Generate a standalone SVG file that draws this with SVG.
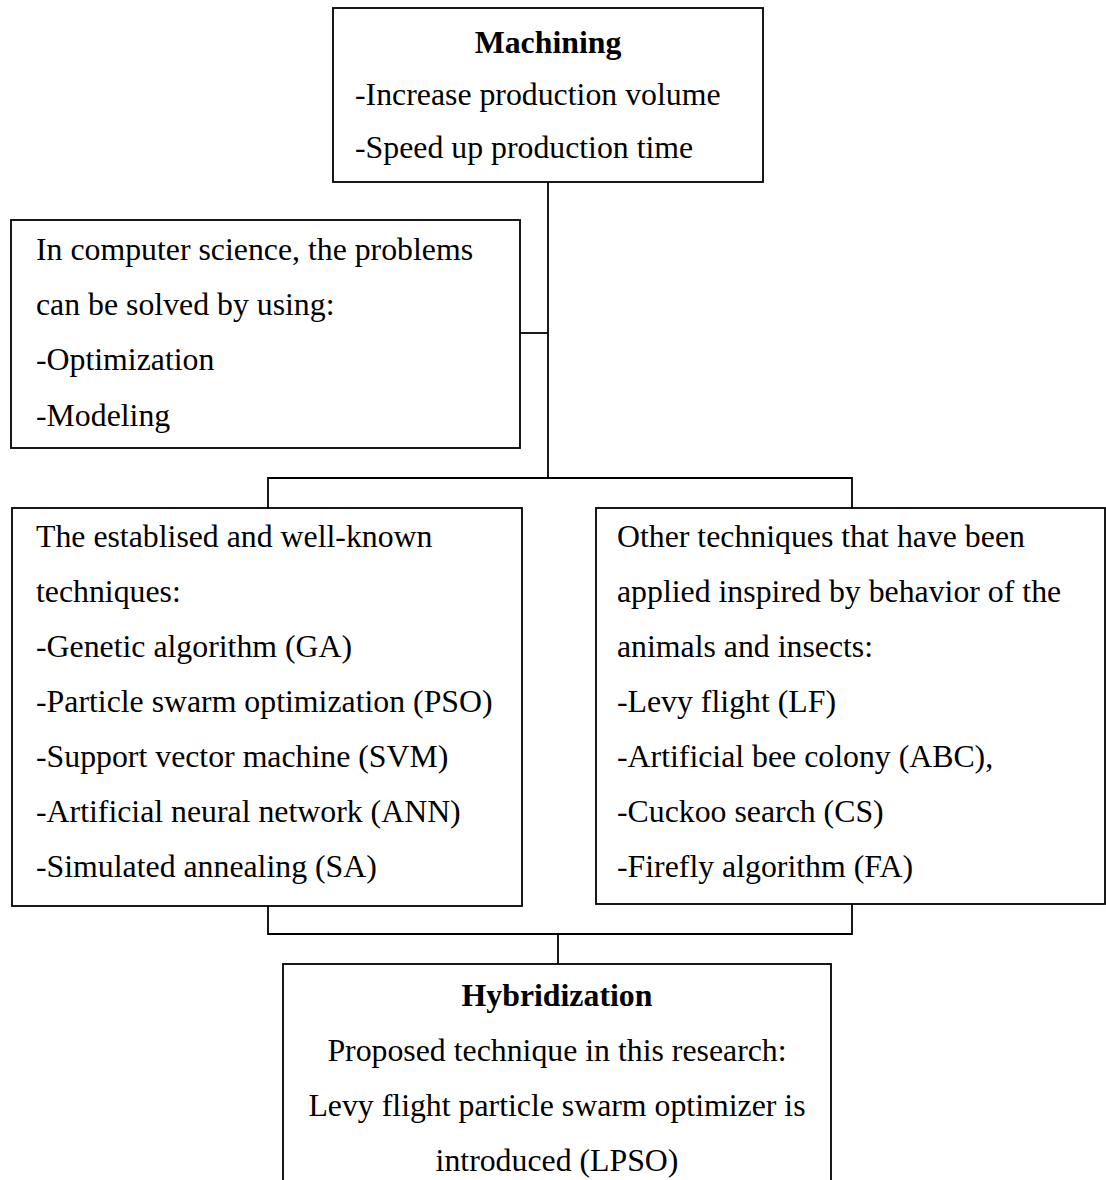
<svg xmlns="http://www.w3.org/2000/svg" width="1106" height="1180" viewBox="0 0 1106 1180">
<style>
.box{fill:#fff;stroke:#000;stroke-width:1.8}
.ln{fill:none;stroke:#000;stroke-width:1.8}
text{font-family:"Liberation Serif","Times New Roman",serif;font-size:31.8px;fill:#000}
.b{font-weight:bold}
.c{text-anchor:middle}
</style>
<rect width="1106" height="1180" fill="#fff"/>
<g id="connectors">
<path class="ln" d="M548 182V478"/>
<path class="ln" d="M520 333H548"/>
<path class="ln" d="M268 508V478H852V508"/>
<path class="ln" d="M268 906V934H852V904"/>
<path class="ln" d="M558 934V964"/>
</g>
<g id="machining">
<rect class="box" x="333" y="8" width="430" height="174"/>
<text class="b c" x="548" y="53">Machining</text>
<text x="355" y="105">-Increase production volume</text>
<text x="355" y="158">-Speed up production time</text>
</g>
<g id="cs">
<rect class="box" x="11" y="220" width="509" height="228"/>
<text x="36" y="260">In computer science, the problems</text>
<text x="36" y="315">can be solved by using:</text>
<text x="36" y="370">-Optimization</text>
<text x="36" y="426">-Modeling</text>
</g>
<g id="established">
<rect class="box" x="12" y="508" width="510" height="398"/>
<text x="36" y="547">The establised and well-known</text>
<text x="36" y="602">techniques:</text>
<text x="36" y="657">-Genetic algorithm (GA)</text>
<text x="36" y="712">-Particle swarm optimization (PSO)</text>
<text x="36" y="767">-Support vector machine (SVM)</text>
<text x="36" y="822">-Artificial neural network (ANN)</text>
<text x="36" y="877">-Simulated annealing (SA)</text>
</g>
<g id="other">
<rect class="box" x="596" y="508" width="509" height="396"/>
<text x="617" y="547">Other techniques that have been</text>
<text x="617" y="602">applied inspired by behavior of the</text>
<text x="617" y="657">animals and insects:</text>
<text x="617" y="712">-Levy flight (LF)</text>
<text x="617" y="767">-Artificial bee colony (ABC),</text>
<text x="617" y="822">-Cuckoo search (CS)</text>
<text x="617" y="877">-Firefly algorithm (FA)</text>
</g>
<g id="hybrid">
<rect class="box" x="283" y="964" width="548" height="240"/>
<text class="b c" x="557" y="1006">Hybridization</text>
<text class="c" x="557" y="1061">Proposed technique in this research:</text>
<text class="c" x="557" y="1116">Levy flight particle swarm optimizer is</text>
<text class="c" x="557" y="1171">introduced (LPSO)</text>
</g>
</svg>
